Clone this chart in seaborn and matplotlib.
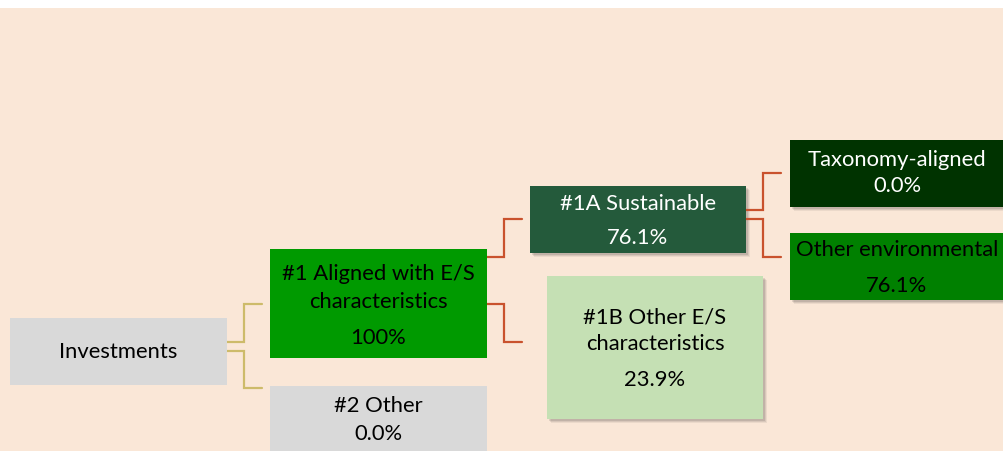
import numpy as np
import matplotlib
matplotlib.use("Agg")
import matplotlib.pyplot as plt
from matplotlib.patches import Rectangle
import seaborn as sns

# ---- data ----
node_names = ["Investments", "#1 Aligned with E/S characteristics", "#2 Other",
              "#1A Sustainable", "#1B Other E/S characteristics",
              "Taxonomy-aligned", "Other environmental"]
node_shares = [np.nan, 100.0, 0.0, 76.1, 23.9, 0.0, 76.1]
edges = [(0, 1), (0, 2), (1, 3), (1, 4), (3, 5), (3, 6)]

# ---- layout / style (pixels) ----
name_lines = [["Investments"], ["#1 Aligned with E/S", "characteristics"], ["#2 Other"],
              ["#1A Sustainable"], ["#1B Other E/S", "characteristics"],
              ["Taxonomy-aligned"], ["Other environmental"]]
boxes = [(10, 318, 217, 67), (270, 249, 217, 109), (270, 386, 217, 70),
         (530, 186, 216, 67), (547, 276, 216, 143), (790, 140, 220, 67), (790, 233, 220, 67)]
text_y = [[351], [272, 300, 336], [405, 433], [202, 237], [316, 342, 378], [159, 185], [248, 284]]
text_x = [118.5, 378.5, 378.5, 638, 655, 897, 897]
fills = ["#D9D9D9", "#009A00", "#D9D9D9", "#245A3B", "#C5E0B4", "#003300", "#008000"]
txtc = ["black", "black", "black", "white", "black", "white", "black"]
shadow = [False, False, False, True, True, True, True]
# connectors: (x_start, y_start, x_mid, y_end, x_end)
conns = [(227, 342, 244, 304, 262), (227, 351, 244, 388, 262),
         (487, 257, 504, 219, 522), (487, 304, 504, 342, 522),
         (746, 210, 763, 173, 781), (746, 219, 763, 257, 781)]
conn_col = ["#CDBB6A", "#CDBB6A", "#C9522D", "#C9522D", "#C9522D", "#C9522D"]

sns.set_theme(style="white")
plt.rcParams['font.family'] = ['Lato', 'DejaVu Sans']

W, H = 1004, 451
fig = plt.figure(figsize=(W / 100, H / 100), dpi=100, facecolor="white")
ax = fig.add_axes([0, 0, 1, 1])
ax.set_xlim(0, W)
ax.set_ylim(H, 0)
ax.axis("off")

ax.add_patch(Rectangle((0, 8), W, H - 8, facecolor="#FAE7D7", edgecolor="none", zorder=0))

def fmt(v):
    if np.isnan(v):
        return None
    return "100%" if v == 100 else f"{v:.1f}%"

for i, name in enumerate(node_names):
    x, y, w, h = boxes[i]
    if shadow[i]:
        for k, a in [(4, 0.06), (3, 0.08), (2, 0.10)]:
            ax.add_patch(Rectangle((x + k, y + k), w, h, facecolor="black", alpha=a,
                                   edgecolor="none", zorder=1))
    ax.add_patch(Rectangle((x, y), w, h, facecolor=fills[i], edgecolor="none", zorder=2))
    lines = list(name_lines[i])
    val = fmt(node_shares[i])
    if val is not None:
        lines.append(val)
    for ln, ty in zip(lines, text_y[i]):
        ax.text(text_x[i], ty + 1.5, ln, ha="center", va="center", color=txtc[i],
                fontsize=15.8, zorder=3)

for (xs, ys, xm, ye, xe), c in zip(conns, conn_col):
    ax.plot([xs, xm, xm, xe], [ys, ys, ye, ye], color=c, lw=1.6, zorder=1.5,
            solid_joinstyle="miter")

fig.savefig("out.png", dpi=100, facecolor="white")
